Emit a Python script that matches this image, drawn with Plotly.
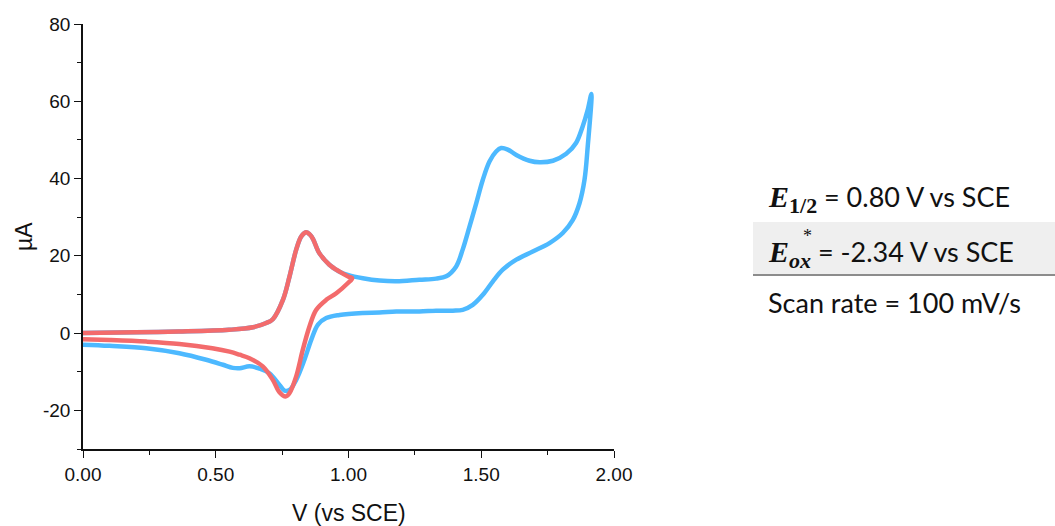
import plotly.graph_objects as go

# ---- cyclic voltammetry data (V vs SCE, current in µA) ----
# Red scan: 0 V -> ~1.01 V -> 0 V
red_fwd_v = [0.0, 0.2, 0.36, 0.55, 0.64, 0.69, 0.715, 0.753, 0.778, 0.803, 0.822, 0.84,
             0.853, 0.866, 0.89, 0.928, 0.966, 1.0, 1.014]
red_fwd_i = [0.0, 0.2, 0.4, 0.85, 1.5, 2.6, 3.6, 8.6, 14.7, 21.6, 25.0, 26.1,
             25.6, 24.4, 20.7, 17.7, 15.9, 14.6, 14.2]
red_rev_v = [0.997, 0.954, 0.916, 0.878, 0.853, 0.828, 0.803, 0.778, 0.763, 0.74, 0.715,
             0.677, 0.627, 0.59, 0.552, 0.487, 0.363, 0.238, 0.1, 0.0]
red_rev_i = [12.9, 10.3, 8.6, 6.0, 1.7, -4.3, -11.2, -15.5, -16.4, -15.3, -12.1,
             -8.6, -6.5, -5.6, -4.8, -3.9, -2.8, -2.2, -1.8, -1.6]

# Blue scan: 0 V -> ~1.92 V -> 0 V
blue_fwd_v = [0.0, 0.2, 0.36, 0.55, 0.64, 0.69, 0.715, 0.753, 0.778, 0.803, 0.822, 0.84,
              0.853, 0.866, 0.89, 0.928, 0.966, 1.0, 1.054, 1.117, 1.18, 1.267, 1.33, 1.368,
              1.405, 1.43, 1.456, 1.481, 1.506, 1.531, 1.556, 1.575, 1.6, 1.632, 1.682,
              1.72, 1.77, 1.82, 1.857, 1.882, 1.901, 1.915]
blue_fwd_i = [0.0, 0.2, 0.4, 0.85, 1.5, 2.6, 3.6, 8.6, 14.7, 21.6, 25.0, 26.1,
              25.6, 24.4, 20.7, 17.7, 15.9, 15.0, 14.2, 13.6, 13.4, 13.8, 14.1, 14.7,
              17.2, 21.6, 27.6, 33.6, 39.7, 44.4, 47.0, 47.9, 47.5, 46.1, 44.6,
              44.2, 44.6, 46.4, 49.2, 53.5, 57.8, 61.9]
blue_rev_v = [1.901, 1.889, 1.87, 1.845, 1.807, 1.757, 1.694, 1.632, 1.581, 1.544, 1.506,
              1.468, 1.43, 1.393, 1.33, 1.267, 1.18, 1.117, 1.054, 0.966, 0.916, 0.885,
              0.86, 0.834, 0.803, 0.778, 0.759, 0.74, 0.702, 0.665, 0.627, 0.59, 0.564,
              0.527, 0.464, 0.363, 0.238, 0.1, 0.0]
blue_rev_i = [48.3, 39.7, 33.6, 29.3, 25.9, 23.3, 21.1, 19.0, 16.4, 13.4, 9.9,
              7.3, 6.0, 5.8, 5.8, 5.6, 5.6, 5.3, 5.2, 4.7, 3.9, 2.2,
              -1.7, -6.9, -12.1, -14.7, -14.9, -13.4, -10.4, -9.2, -8.6, -9.1, -9.0,
              -8.2, -6.9, -5.2, -3.9, -3.3, -3.0]

x_tick_vals = [0.0, 0.5, 1.0, 1.5, 2.0]
x_tick_text = ["0.00", "0.50", "1.00", "1.50", "2.00"]
y_tick_vals = [-20, 0, 20, 40, 60, 80]
y_tick_text = ["-20", "0", "20", "40", "60", "80"]

BLUE = "#4DB9FF"
RED = "#F36B6C"

W, H = 1055, 526
ML, MR, MT, MB = 83, 441, 24, 77
PW, PH = W - ML - MR, H - MT - MB


def px_x(px):
    return (px - ML) / PW


def px_y(py):
    return (H - MB - py) / PH


fig = go.Figure()
fig.add_trace(go.Scatter(
    x=blue_fwd_v + blue_rev_v, y=blue_fwd_i + blue_rev_i, mode="lines",
    line=dict(color=BLUE, width=4.5, shape="spline", smoothing=1.0),
    showlegend=False, hoverinfo="skip"))
fig.add_trace(go.Scatter(
    x=red_fwd_v + red_rev_v, y=red_fwd_i + red_rev_i, mode="lines",
    line=dict(color=RED, width=4.5, shape="spline", smoothing=1.0),
    showlegend=False, hoverinfo="skip"))

axis_font = dict(family="Liberation Sans, Arial, sans-serif", size=19, color="#111")

fig.update_layout(
    width=W, height=H,
    margin=dict(l=ML, r=MR, t=MT, b=MB, pad=0),
    paper_bgcolor="white", plot_bgcolor="white",
    xaxis=dict(range=[0, 2], tickvals=x_tick_vals, ticktext=x_tick_text,
               showgrid=False, zeroline=False, showline=True, linecolor="#111",
               linewidth=1.6, ticks="outside", ticklen=7, tickwidth=1.4,
               tickcolor="#111", tickfont=axis_font,
               minor=dict(dtick=0.25, tick0=0, ticks="outside", ticklen=4,
                          tickwidth=1.2, tickcolor="#111", showgrid=False)),
    yaxis=dict(range=[-30, 80], tickvals=y_tick_vals, ticktext=y_tick_text,
               showgrid=False, zeroline=False, showline=True, linecolor="#111",
               linewidth=1.6, ticks="outside", ticklen=7, tickwidth=1.4,
               tickcolor="#111", tickfont=axis_font,
               minor=dict(dtick=10, tick0=0, ticks="outside", ticklen=4,
                          tickwidth=1.2, tickcolor="#111", showgrid=False)),
)

# Axis titles
fig.add_annotation(text="V (vs SCE)", xref="paper", yref="paper",
                   x=px_x(349), y=px_y(513), xanchor="center", yanchor="middle",
                   showarrow=False,
                   font=dict(family="Liberation Sans, Arial, sans-serif", size=23, color="#111"))
fig.add_annotation(text="µA", xref="paper", yref="paper", textangle=-90,
                   x=px_x(24), y=px_y(237), xanchor="center", yanchor="middle",
                   showarrow=False,
                   font=dict(family="Liberation Sans, Arial, sans-serif", size=23, color="#111"))

# Info table on the right
fig.add_shape(type="rect", xref="paper", yref="paper",
              x0=px_x(753), x1=px_x(1055), y0=px_y(274), y1=px_y(222),
              fillcolor="#EFEFEF", line=dict(width=0), layer="below")
fig.add_shape(type="line", xref="paper", yref="paper",
              x0=px_x(753), x1=px_x(1055), y0=px_y(275), y1=px_y(275),
              line=dict(color="#8C8C8C", width=2))

text_font = dict(family="Lato, sans-serif", size=27, color="#111")
serif = "font-family:Liberation Serif, serif"
big_e = '<span style="' + serif + ';font-size:30px"><b><i>E</i></b></span>'


def sub(t):
    return '<sub><span style="' + serif + ';font-size:22px"><b>' + t + '</b></span></sub>'


fig.add_annotation(
    text=big_e + sub("1/2") + " = 0.80 V vs SCE",
    xref="paper", yref="paper", x=px_x(766), y=px_y(199),
    xanchor="left", yanchor="middle", showarrow=False, font=text_font)
fig.add_annotation(
    text=big_e + sub("<i>ox</i>") + " = -2.34 V vs SCE",
    xref="paper", yref="paper", x=px_x(766), y=px_y(254),
    xanchor="left", yanchor="middle", showarrow=False, font=text_font)
fig.add_annotation(
    text="*",
    xref="paper", yref="paper", x=px_x(801), y=px_y(236),
    xanchor="left", yanchor="middle", showarrow=False,
    font=dict(family="Liberation Serif, serif", size=18, color="#111"))
fig.add_annotation(
    text="Scan rate = 100 mV/s",
    xref="paper", yref="paper", x=px_x(766), y=px_y(302),
    xanchor="left", yanchor="middle", showarrow=False, font=text_font)

fig.write_html("out.html")
